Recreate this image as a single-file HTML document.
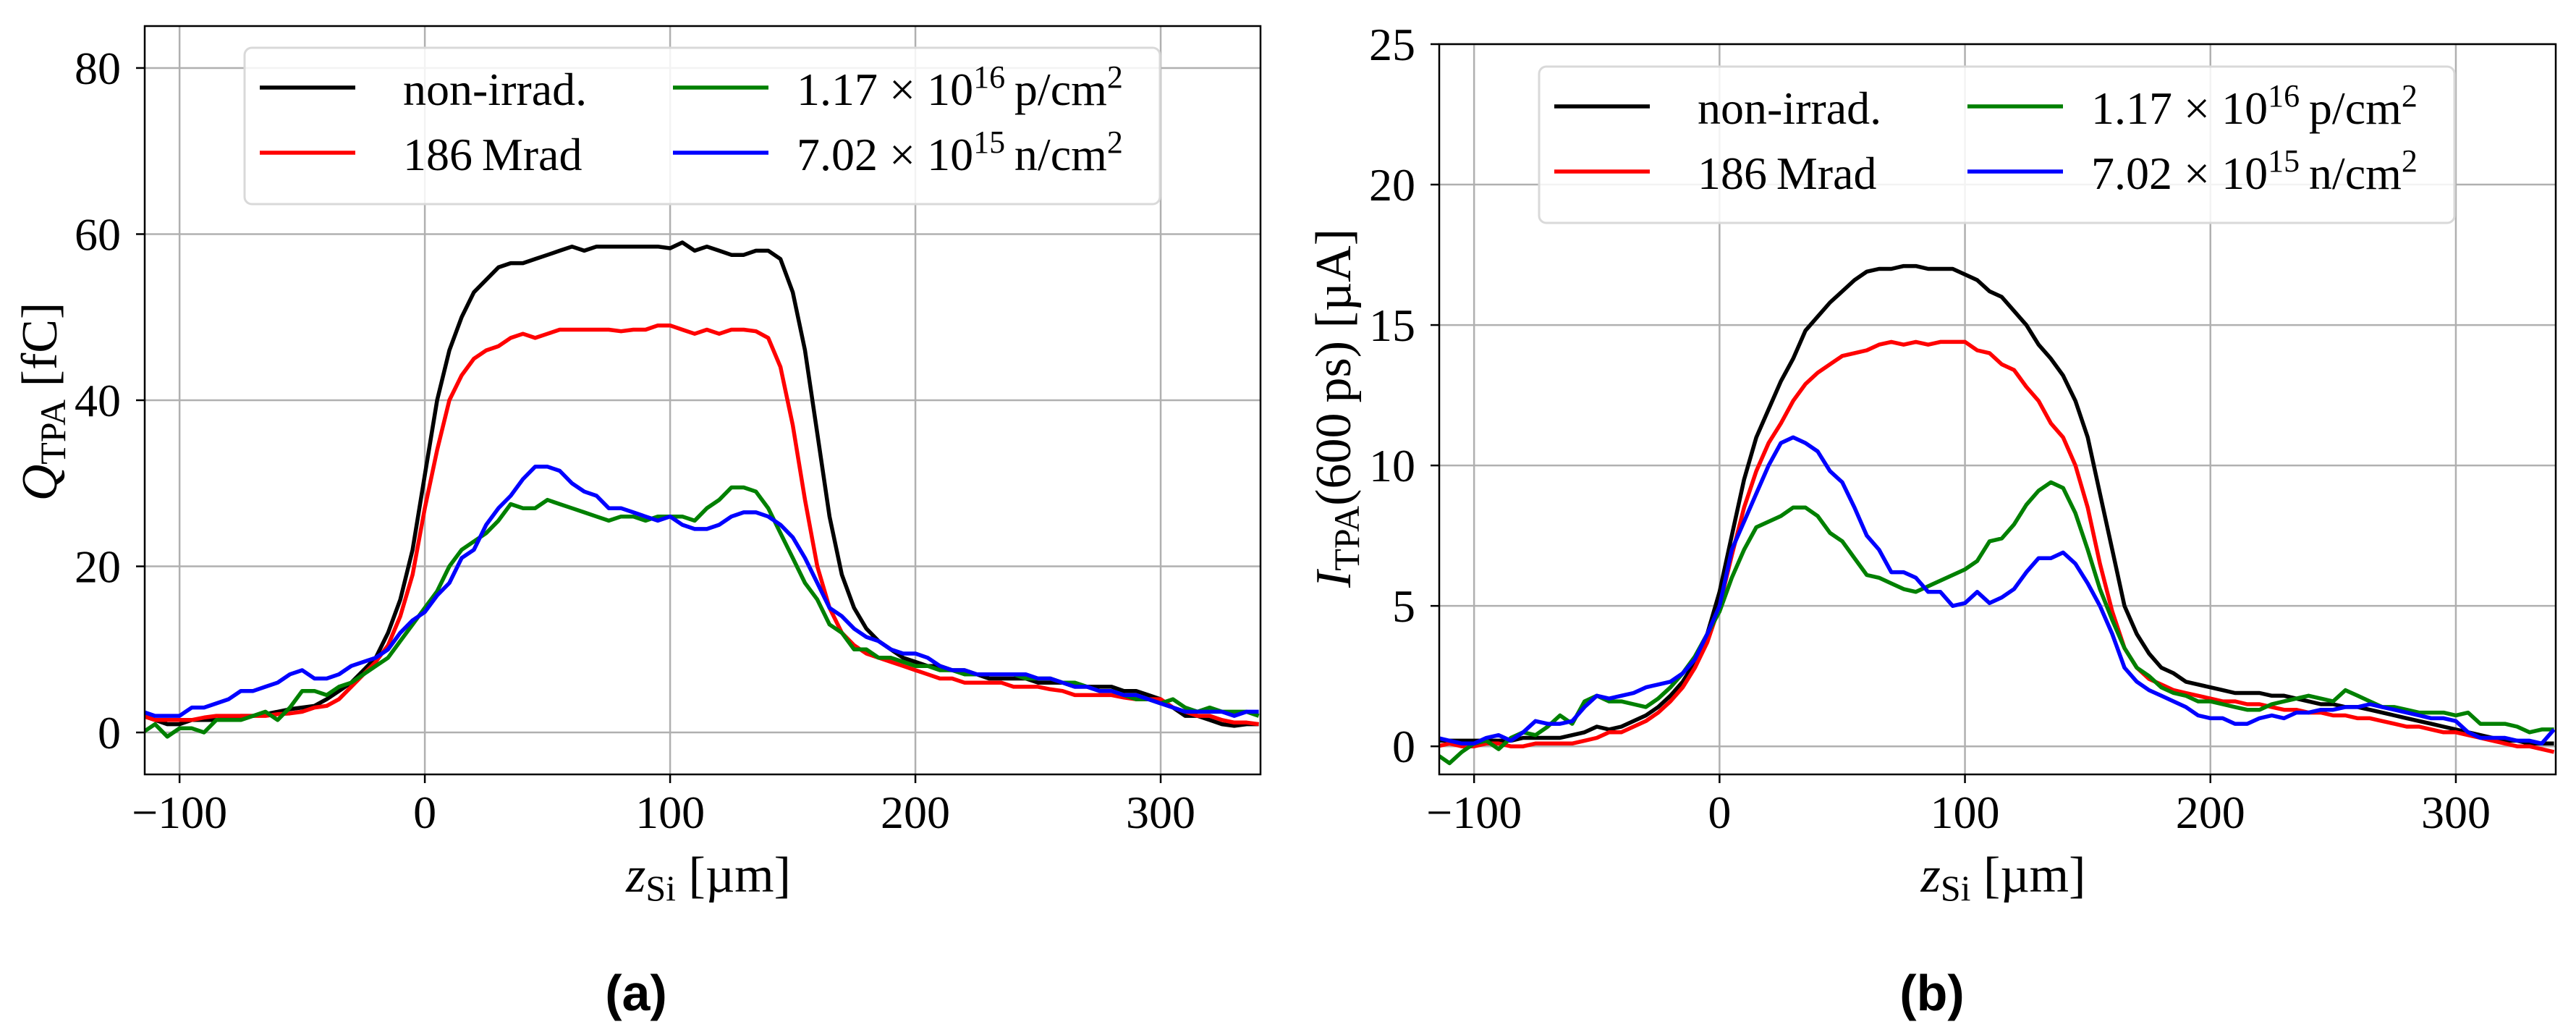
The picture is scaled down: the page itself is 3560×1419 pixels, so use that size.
<!DOCTYPE html>
<html><head><meta charset="utf-8"><style>
html,body{margin:0;padding:0;background:#fff;}
svg{display:block;font-family:"Liberation Serif",serif;}
</style></head><body>
<svg id="fig" width="3560" height="1419" viewBox="0 0 3560 1419" xmlns="http://www.w3.org/2000/svg"></svg>
<script>
const xStart=-115, xStep=5;
const qBlack=[2,1.5,1,1,1.5,1.5,1.5,1.8,2,2, 2.2,2.5,2.8,3,3.2,4,5,6,7.5,9, 12,16,22,31,40,46,50,53,54.5,56, 56.5,56.5,57,57.5,58,58.5,58,58.5,58.5,58.5, 58.5,58.5,58.5,58.3,59,58,58.5,58,57.5,57.5, 58,58,57,53,46,36,26,19,15,12.5, 11,10,9,8.5,8,8,7.5,7.5,7,6.5, 6.5,6.5,6.5,6,6,6,5.5,5.5,5.5,5.5, 5,5,4.5,4,3,2,2,1.5,1,0.8, 1,1];
const qRed=[2,1.5,1.5,1.5,1.5,1.8,2,2,2,2, 2,2.2,2.3,2.5,3,3.2,4,5.5,7,8.5, 10.5,14,19,27,34,40,43,45,46,46.5, 47.5,48,47.5,48,48.5,48.5,48.5,48.5,48.5,48.3, 48.5,48.5,49,49,48.5,48,48.5,48,48.5,48.5, 48.3,47.5,44,37,28,20,15,12,10.5,9.5, 9,8.5,8,7.5,7,6.5,6.5,6,6,6, 6,5.5,5.5,5.5,5.2,5,4.5,4.5,4.5,4.5, 4.2,4,4,4,3,2.5,2,2,1.5,1.2, 1.2,1];
const qGreen=[0,1,-0.5,0.5,0.5,0,1.5,1.5,1.5,2, 2.5,1.5,3,5,5,4.5,5.5,6,7,8, 9,11,13,15,17,20,22,23,24,25.5, 27.5,27,27,28,27.5,27,26.5,26,25.5,26, 26,25.5,26,26,26,25.5,27,28,29.5,29.5, 29,27,24,21,18,16,13,12,10,10, 9,9,8.5,8,8,7.5,7.5,7,7,7, 7,7,6.5,6.5,6.5,6,6,5.5,5,5, 4.5,4,4,3.5,4,3,2.5,3,2.5,2.5, 2.5,2];
const qBlue=[2.5,2,2,2,3,3,3.5,4,5,5, 5.5,6,7,7.5,6.5,6.5,7,8,8.5,9, 10,12,13.5,14.5,16.5,18,21,22,25,27, 28.5,30.5,32,32,31.5,30,29,28.5,27,27, 26.5,26,25.5,26,25,24.5,24.5,25,26,26.5, 26.5,26,25,23.5,21,18,15,14,12.5,11.5, 11,10,9.5,9.5,9,8,7.5,7.5,7,7, 7,7,7,6.5,6.5,6,5.5,5.5,5,5, 4.5,4.5,4,3.5,3,2.5,2.5,2.5,2.5,2, 2.5,2.5];
const iBlack=[0.2,0.2,0.2,0.2,0.2,0.2,0.2,0.3,0.3,0.3, 0.3,0.4,0.5,0.7,0.6,0.7,0.9,1.1,1.4,1.8, 2.3,3,4,5.5,7.5,9.5,11,12,13,13.8, 14.8,15.3,15.8,16.2,16.6,16.9,17,17,17.1,17.1, 17,17,17,16.8,16.6,16.2,16,15.5,15,14.3, 13.8,13.2,12.3,11,9,7,5,4,3.3,2.8, 2.6,2.3,2.2,2.1,2,1.9,1.9,1.9,1.8,1.8, 1.7,1.6,1.5,1.5,1.4,1.4,1.3,1.2,1.1,1.0, 0.9,0.8,0.7,0.6,0.5,0.4,0.3,0.2,0.2,0.1, 0.1,0.1];
const iRed=[0,0.1,0,0,0.1,0.1,0,0,0.1,0.1, 0.1,0.1,0.2,0.3,0.5,0.5,0.7,0.9,1.2,1.6, 2.1,2.8,3.7,5,6.8,8.5,9.8,10.8,11.5,12.3, 12.9,13.3,13.6,13.9,14,14.1,14.3,14.4,14.3,14.4, 14.3,14.4,14.4,14.4,14.1,14,13.6,13.4,12.8,12.3, 11.5,11,10,8.5,6.5,4.8,3.5,2.8,2.4,2.2, 2,1.9,1.8,1.7,1.6,1.6,1.5,1.5,1.4,1.3, 1.3,1.2,1.2,1.1,1.1,1.0,1.0,0.9,0.8,0.7, 0.7,0.6,0.5,0.5,0.4,0.3,0.2,0.1,0,0, -0.1,-0.2];
const iGreen=[-0.3,-0.6,-0.2,0.1,0.2,-0.1,0.3,0.5,0.4,0.7, 1.1,0.8,1.6,1.8,1.6,1.6,1.5,1.4,1.7,2.1, 2.6,3.2,4,4.8,6,7,7.8,8,8.2,8.5, 8.5,8.2,7.6,7.3,6.7,6.1,6,5.8,5.6,5.5, 5.7,5.9,6.1,6.3,6.6,7.3,7.4,7.9,8.6,9.1, 9.4,9.2,8.3,7,5.6,4.5,3.5,2.8,2.5,2.1, 1.9,1.8,1.6,1.6,1.5,1.4,1.3,1.3,1.5,1.6, 1.7,1.8,1.7,1.6,2,1.8,1.6,1.4,1.4,1.3, 1.2,1.2,1.2,1.1,1.2,0.8,0.8,0.8,0.7,0.5, 0.6,0.6];
const iBlue=[0.3,0.2,0.1,0.1,0.3,0.4,0.2,0.5,0.9,0.8, 0.8,0.9,1.4,1.8,1.7,1.8,1.9,2.1,2.2,2.3, 2.6,3.1,4,5,7,8,9,10,10.8,11, 10.8,10.5,9.8,9.4,8.5,7.5,7,6.2,6.2,6, 5.5,5.5,5,5.1,5.5,5.1,5.3,5.6,6.2,6.7, 6.7,6.9,6.5,5.8,5,4,2.8,2.3,2,1.8, 1.6,1.4,1.1,1,1,0.8,0.8,1,1.1,1, 1.2,1.2,1.3,1.3,1.4,1.4,1.5,1.4,1.3,1.2, 1.1,1.0,1,0.9,0.5,0.3,0.3,0.3,0.2,0.2, 0.1,0.6];
const xTicks=[-100,0,100,200,300];
const xTickLabels=["\u2212100","0","100","200","300"];
const qTicks=[0,20,40,60,80];
const iTicks=[0,5,10,15,20,25];
const legendLabels=["non-irrad.","186\u2009Mrad"];

const NS="http://www.w3.org/2000/svg";
const svg=document.getElementById('fig');
function mk(tag,attrs,parent){const e=document.createElementNS(NS,tag);for(const k in attrs)e.setAttribute(k,attrs[k]);(parent||svg).appendChild(e);return e;}
const xs=qBlack.map((_,i)=>xStart+i*xStep);

function panel(cfg){
  const g=mk('g',{});
  
  
  const X0=-114.2,X1=340.7;
  const px=v=>cfg.L+(v-X0)/(X1-X0)*(cfg.R-cfg.L);
  const py=v=>cfg.B-(v-cfg.y0)/(cfg.y1-cfg.y0)*(cfg.B-cfg.T);
  // grid
  xTicks.forEach((t,i)=>{
    const l=mk('line',{x1:px(t),x2:px(t),y1:cfg.T,y2:cfg.B,stroke:'#b0b0b0','stroke-width':2.5},g);
    
    
    mk('line',{x1:px(t),x2:px(t),y1:cfg.B,y2:cfg.B+12,stroke:'#000','stroke-width':2.5},g);
    const tx=mk('text',{x:px(t),y:1144,'font-size':64,'text-anchor':'middle'},g);
    tx.textContent=xTickLabels[i];
    
    
  });
  cfg.yt.forEach(t=>{
    const l=mk('line',{x1:cfg.L,x2:cfg.R,y1:py(t),y2:py(t),stroke:'#b0b0b0','stroke-width':2.5},g);
    
    
    mk('line',{x1:cfg.L-12,x2:cfg.L,y1:py(t),y2:py(t),stroke:'#000','stroke-width':2.5},g);
    const tx=mk('text',{x:cfg.L-33,y:py(t)+22,'font-size':64,'text-anchor':'end'},g);
    tx.textContent=String(t);
    
    
  });
  // series
  const cols=['#000','#ff0000','#008000','#0000ff'];
  const names=['series-non-irrad','series-186-mrad','series-proton','series-neutron'];
  const order=[0,1,2,3];
  const cp=mk('clipPath',{id:cfg.name+'-clip'},g);
  mk('rect',{x:cfg.L,y:cfg.T,width:cfg.R-cfg.L,height:cfg.B-cfg.T},cp);
  order.forEach(k=>{
    const d=cfg.series[k].map((v,i)=>(i?'L':'M')+px(xs[i]).toFixed(1)+','+py(v).toFixed(1)).join(' ');
    const p=mk('path',{d:d,fill:'none',stroke:cols[k],'stroke-width':5.5,'stroke-linejoin':'round','clip-path':'url(#'+cfg.name+'-clip)'},g);
    
    
  });
  const fr=mk('rect',{x:cfg.L,y:cfg.T,width:cfg.R-cfg.L,height:cfg.B-cfg.T,fill:'none',stroke:'#000','stroke-width':2.5},g);
  
  
  // legend
  const lg=mk('g',{},g);
  
  
  const lx=cfg.lx,ly=cfg.ly;
  mk('rect',{x:lx,y:ly,width:1265,height:216,rx:10,fill:'#fff','fill-opacity':0.85,stroke:'#d9d9d9','stroke-width':3},lg);
  const ent=[[0,21,55,0],[1,21,145,0],[2,592,55,1],[3,592,145,1]];
  ent.forEach(([k,ox,oy,c])=>{
    const e=mk('g',{},lg);
    
    
    mk('line',{x1:lx+ox,x2:lx+ox+132,y1:ly+oy,y2:ly+oy,stroke:cols[k],'stroke-width':5.5},e);
    const t=mk('text',{x:lx+ox+(c?171:198),y:ly+oy+24,'font-size':64},e);
    if(k<2){t.textContent=legendLabels[k];}
    else{
      const a=k==2?['1.17','16','p']:['7.02','15','n'];
      t.innerHTML=a[0]+' \u00d7 10<tspan dy="-24" font-size="44">'+a[1]+'</tspan><tspan dy="24">\u2009'+a[2]+'/cm</tspan><tspan dy="-24" font-size="44">2</tspan>';
    }
  });
  // axis labels
  const xl=mk('text',{x:(cfg.L+cfg.R)/2+8,y:1232,'font-size':70,'text-anchor':'middle'},g);
  xl.innerHTML='<tspan font-style="italic">z</tspan><tspan dy="12" font-size="50">Si</tspan><tspan dy="-12"> [\u00b5m]</tspan>';
  
  
  const yl=mk('text',{x:0,y:0,'font-size':70,'text-anchor':'middle',transform:'translate('+cfg.ylx+','+cfg.yly+') rotate(-90)'},g);
  yl.innerHTML=cfg.ylab;
  
  
  const cap=mk('text',{x:cfg.capx,y:1396,'font-size':70,'font-weight':'bold','text-anchor':'middle','font-family':'Liberation Sans, sans-serif'},g);
  cap.textContent=cfg.cap;
  
  
}
panel({name:'chart-charge',L:200,R:1742,T:36,B:1070,y0:-5.05,y1:85.05,yt:qTicks,series:[qBlack,qRed,qGreen,qBlue],lx:338,ly:66,
  ylab:'<tspan font-style="italic">Q</tspan><tspan dy="12" font-size="50">TPA</tspan><tspan dy="-12"> [fC]</tspan>',ylx:78,yly:555,capx:879,cap:'(a)'});
panel({name:'chart-current',L:1989,R:3532,T:61,B:1070,y0:-1,y1:25,yt:iTicks,series:[iBlack,iRed,iGreen,iBlue],lx:2127,ly:92,
  ylab:'<tspan font-style="italic">I</tspan><tspan dy="12" font-size="50">TPA</tspan><tspan dy="-12">(600\u2009ps) [\u00b5A]</tspan>',ylx:1866,yly:564,capx:2670,cap:'(b)'});
</script>
</body></html>
